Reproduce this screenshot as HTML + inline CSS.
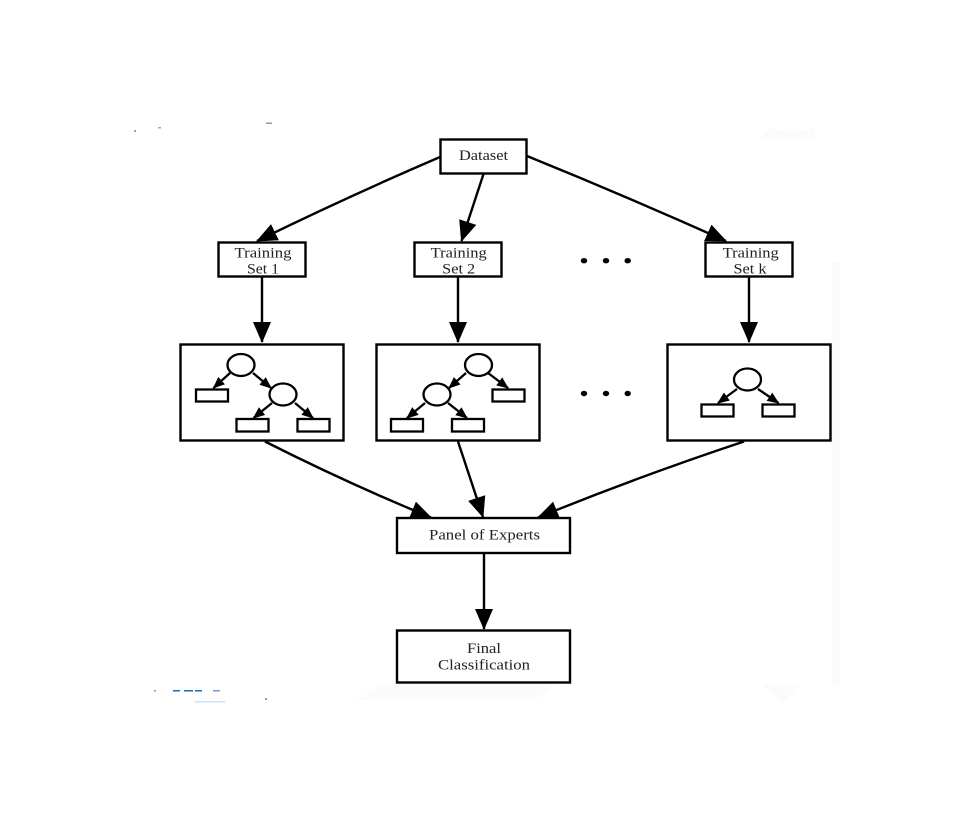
<!DOCTYPE html>
<html>
<head>
<meta charset="utf-8">
<style>
html,body{margin:0;padding:0;background:#fff;}
svg{display:block;}
text{font-family:"Liberation Serif",serif;font-size:15px;fill:#222;text-anchor:middle;}
</style>
</head>
<body>
<svg width="961" height="825" viewBox="0 0 961 825" xmlns="http://www.w3.org/2000/svg">
<defs>
<marker id="a" markerUnits="userSpaceOnUse" markerWidth="24" markerHeight="20" refX="20" refY="9" orient="auto">
<path d="M0 0 L21 9 L0 18 Z" fill="#000"/>
</marker>
<marker id="s" markerUnits="userSpaceOnUse" markerWidth="14" markerHeight="12" refX="11" refY="5" orient="auto">
<path d="M0 0 L12 5 L0 10 Z" fill="#000"/>
</marker>
<filter id="b" filterUnits="userSpaceOnUse" x="0" y="0" width="961" height="825"><feGaussianBlur stdDeviation="0.3"/></filter>
</defs>
<rect width="961" height="825" fill="#fff"/>
<g fill="#fbfbfb">
<path d="M355 700 L385 684 L556 684 L535 700 Z"/>
<path d="M762 684 L800 684 L782 703 Z"/>
<path d="M760 140 L770 128 L790 132 L815 128 L815 140 Z"/>
<rect x="832" y="262" width="8" height="423"/>
</g>
<g fill="#1a6ab0">
<rect x="173" y="690" width="7" height="1.500"/>
<rect x="184" y="690" width="9" height="1.500"/>
<rect x="195" y="690" width="7" height="1.500"/>
<rect x="213" y="690" width="7" height="1.500" fill="#6f9fd0"/>
<rect x="195" y="701" width="30" height="1.500" fill="#cfe0f2"/>
<rect x="154" y="690" width="2" height="1.500" fill="#8a88c0"/>
<rect x="265" y="698" width="2" height="2" fill="#9a90c0"/>
<rect x="158" y="127" width="3" height="1.500" fill="#7ab0dc"/>
<rect x="134" y="130" width="2" height="2" fill="#b090c0"/>
<rect x="266" y="122.500" width="6" height="1.500" fill="#7f9fbf"/>
</g>
<g filter="url(#b)">
<g fill="#fff" stroke="#000" stroke-width="2.400">
<rect x="440.500" y="139.500" width="86" height="34"/>
<rect x="218.500" y="242.500" width="87" height="34"/>
<rect x="414.500" y="242.500" width="87" height="34"/>
<rect x="705.500" y="242.500" width="87" height="34"/>
<rect x="180.500" y="344.500" width="163" height="96"/>
<rect x="376.500" y="344.500" width="163" height="96"/>
<rect x="667.500" y="344.500" width="163" height="96"/>
<rect x="397" y="518" width="173" height="35"/>
<rect x="397" y="630.500" width="173" height="52"/>
</g>
<g fill="none" stroke="#000" stroke-width="2.400">
<path d="M440 157 Q347 197 257 241" marker-end="url(#a)"/>
<path d="M483.500 174 L461.500 241" marker-end="url(#a)"/>
<path d="M527 156 Q628 197 726 241" marker-end="url(#a)"/>
<path d="M262 277 L262 342" marker-end="url(#a)"/>
<path d="M458 277 L458 342" marker-end="url(#a)"/>
<path d="M749 277 L749 342" marker-end="url(#a)"/>
<path d="M265 441.500 Q347 483 431 517.500" marker-end="url(#a)"/>
<path d="M458 441.500 L483 517" marker-end="url(#a)"/>
<path d="M744 441.500 Q640 476 538 517.500" marker-end="url(#a)"/>
<path d="M484 553 L484 629" marker-end="url(#a)"/>
</g>
<g>
<text x="483.500" y="160" textLength="49" lengthAdjust="spacingAndGlyphs">Dataset</text>
<text x="263" y="257.500" textLength="57" lengthAdjust="spacingAndGlyphs">Training</text>
<text x="263" y="273.500" textLength="32" lengthAdjust="spacingAndGlyphs">Set 1</text>
<text x="458.700" y="257.500" textLength="56" lengthAdjust="spacingAndGlyphs">Training</text>
<text x="458.700" y="273.500" textLength="33" lengthAdjust="spacingAndGlyphs">Set 2</text>
<text x="750.700" y="257.500" textLength="56" lengthAdjust="spacingAndGlyphs">Training</text>
<text x="750" y="273.500" textLength="33" lengthAdjust="spacingAndGlyphs">Set k</text>
<text x="484.500" y="539.500" textLength="111" lengthAdjust="spacingAndGlyphs">Panel of Experts</text>
<text x="484" y="653" textLength="34" lengthAdjust="spacingAndGlyphs">Final</text>
<text x="484" y="669.500" textLength="92" lengthAdjust="spacingAndGlyphs">Classification</text>
</g>
<g fill="#000">
<ellipse cx="584" cy="260.700" rx="3.200" ry="2.700"/><ellipse cx="606" cy="260.700" rx="3.200" ry="2.700"/><ellipse cx="627.700" cy="260.700" rx="3.200" ry="2.700"/>
<ellipse cx="584" cy="393.500" rx="3.200" ry="2.700"/><ellipse cx="606" cy="393.500" rx="3.200" ry="2.700"/><ellipse cx="627.700" cy="393.500" rx="3.200" ry="2.700"/>
</g>
<g fill="none" stroke="#000" stroke-width="2.300">
<path d="M230 373 L213.500 388" marker-end="url(#s)"/>
<path d="M253 373 L271 388" marker-end="url(#s)"/>
<path d="M272 403 L253.500 418" marker-end="url(#s)"/>
<path d="M295 403 L313 418" marker-end="url(#s)"/>
<path d="M466 373 L449 388" marker-end="url(#s)"/>
<path d="M488 373 L508 388" marker-end="url(#s)"/>
<path d="M425 403 L407 418" marker-end="url(#s)"/>
<path d="M448 403 L467 418" marker-end="url(#s)"/>
<path d="M737 389 L718 403" marker-end="url(#s)"/>
<path d="M758 389 L778.500 403" marker-end="url(#s)"/>
</g>
<g fill="#fff" stroke="#000" stroke-width="2.300">
<ellipse cx="241" cy="365" rx="13.500" ry="11"/>
<ellipse cx="283" cy="394.500" rx="13.500" ry="11"/>
<rect x="196" y="389.500" width="32" height="12"/>
<rect x="236.500" y="419" width="32" height="12.500"/>
<rect x="297.500" y="419" width="32" height="12.500"/>
<ellipse cx="478.500" cy="365" rx="13.500" ry="11"/>
<ellipse cx="437" cy="394.500" rx="13.500" ry="11"/>
<rect x="492.500" y="389.500" width="32" height="12"/>
<rect x="391" y="419" width="32" height="12.500"/>
<rect x="452" y="419" width="32" height="12.500"/>
<ellipse cx="747.500" cy="379.500" rx="13.500" ry="11"/>
<rect x="701.500" y="404.500" width="32" height="12"/>
<rect x="762.500" y="404.500" width="32" height="12"/>
</g>
</g>
</svg>
</body>
</html>
